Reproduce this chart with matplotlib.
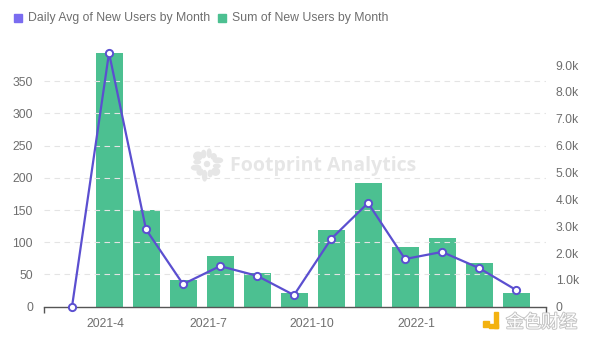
import matplotlib
matplotlib.use("Agg")
import matplotlib.pyplot as plt
import matplotlib.patheffects as pe
from matplotlib.patches import Rectangle, Ellipse
import numpy as np

# Monthly new-user figures
months = ["2021-3", "2021-4", "2021-5", "2021-6", "2021-7", "2021-8", "2021-9",
          "2021-10", "2021-11", "2021-12", "2022-1", "2022-2", "2022-3"]
daily_avg = [0, 394, 120, 35, 63, 48, 18, 105, 161, 74, 85, 60, 26]
monthly_sum = [0, 9460, 3600, 990, 1890, 1270, 520, 2860, 4620, 2220, 2560, 1630, 510]
tick_labels = ["2021-4", "2021-7", "2021-10", "2022-1"]

left_ticks = [0, 50, 100, 150, 200, 250, 300, 350]
right_ticks = [0, 1000, 2000, 3000, 4000, 5000, 6000, 7000, 8000, 9000]

BAR = "#4cc091"
LINE = "#5b4fd0"
LEGEND_LINE = "#7a6cf0"
TXT = "#6e6e6e"

plt.rcParams["font.family"] = ["Liberation Sans", "DejaVu Sans"]

W, H = 600, 339
fig = plt.figure(figsize=(W / 100, H / 100), dpi=100)
fig.patch.set_facecolor("white")

x0, x1, y_top, y_bot = 44, 546, 49, 306.7
ax = fig.add_axes([x0 / W, 1 - y_bot / H, (x1 - x0) / W, (y_bot - y_top) / H])
ax2 = ax.twinx()

x = np.arange(len(months))
ax.set_xlim(-0.757, len(months) - 1 + 0.81)

# bars on the right-hand axis
ax2.bar(x, monthly_sum, width=0.73, color=BAR, zorder=2)
ax2.set_ylim(0, 9600)
ax.set_ylim(0, 400)

# line on the left-hand axis, drawn above the bars
ax.set_zorder(ax2.get_zorder() + 1)
ax.patch.set_visible(False)
ax.plot(x, daily_avg, color=LINE, lw=1.6, marker="o", ms=5.2,
        mfc="white", mec=LINE, mew=1.4, zorder=5, clip_on=False)

# grid
for v in left_ticks[1:]:
    ax.axhline(v, color="#e4e4e4", lw=0.8, ls=(0, (5, 4)), zorder=0)

ax.set_yticks(left_ticks)
ax.set_yticklabels([str(v) for v in left_ticks])
ax2.set_yticks(right_ticks)
ax2.set_yticklabels(["0"] + [f"{v / 1000:.1f}k" for v in right_ticks[1:]])

ax.set_xticks([0.89, 3.69, 6.49, 9.30])
ax.set_xticklabels(tick_labels)
ax.set_xticks([-0.757, len(months) - 1 + 0.81], minor=True)

ax.tick_params(axis="y", length=0, pad=8, labelsize=8.7, labelcolor=TXT)
ax2.tick_params(axis="y", length=0, pad=7, labelsize=8.7, labelcolor=TXT)
ax.tick_params(axis="x", which="major", length=0, pad=8, labelsize=8.7, labelcolor=TXT)
ax.tick_params(axis="x", which="minor", length=4, width=1, color="#555555", direction="out")

for a in (ax, ax2):
    for s in ("left", "right", "top"):
        a.spines[s].set_visible(False)
ax2.spines["bottom"].set_visible(False)
ax.spines["bottom"].set_color("#555555")
ax.spines["bottom"].set_linewidth(1.0)

# legend
def legend_item(px, color, label):
    fig.patches.append(Rectangle(((px) / W, 1 - 22 / H), 8 / W, 8 / H,
                                 transform=fig.transFigure, color=color))
    fig.text((px + 14) / W, 1 - 18 / H, label, fontsize=8.8, color=TXT,
             va="center", ha="left")

legend_item(14, LEGEND_LINE, "Daily Avg of New Users by Month")
legend_item(218, BAR, "Sum of New Users by Month")

# Footprint Analytics watermark
WM = "#e6e6e6"
cx, cy = 207, 164
ray_len = [4, 7, 4, 8, 5, 7, 4, 8, 5, 6, 4, 7]
for k, ln in enumerate(ray_len):
    ang = 2 * np.pi * k / len(ray_len) + 0.2
    r = 8 + ln / 2
    ex = cx + r * np.cos(ang)
    ey = cy + r * np.sin(ang)
    fig.patches.append(Ellipse((ex / W, 1 - ey / H), (ln * abs(np.cos(ang)) + 2.5) / W,
                               (ln * abs(np.sin(ang)) + 2.5) / H,
                               transform=fig.transFigure, color=WM))
fig.patches.append(Ellipse((cx / W, 1 - cy / H), 5 / W, 5 / H,
                           transform=fig.transFigure, color=WM))
fig.text(230 / W, 1 - 166 / H, "Footprint Analytics", fontsize=14,
         fontweight="bold", color=WM, va="center", ha="left",
         family=["Open Sans", "DejaVu Sans"])

# 金色财经 watermark
fig.patches.append(Rectangle((483 / W, 1 - 327 / H), 6 / W, 6 / H,
                             transform=fig.transFigure, color="#f3b210"))
fig.patches.append(Rectangle((489 / W, 1 - 328 / H), 9 / W, 4 / H,
                             transform=fig.transFigure, color="#f3b210"))
fig.patches.append(Rectangle((494 / W, 1 - 328 / H), 4 / W, 16 / H,
                             transform=fig.transFigure, color="#f3b210"))
fig.text(506 / W, 1 - 322.5 / H, "金色财经", fontsize=12.8, color="white",
         va="center", ha="left", family=["Noto Sans CJK SC", "DejaVu Sans"],
         path_effects=[pe.withStroke(linewidth=1.4, foreground="#c4c4c4")])

fig.savefig("out.png", dpi=100, facecolor="white")
